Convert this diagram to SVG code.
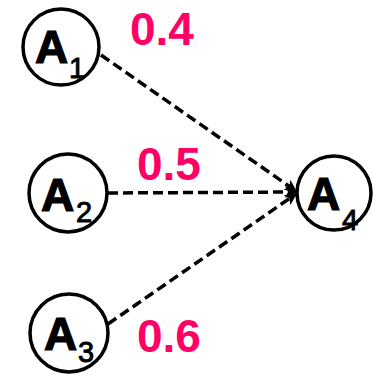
<svg xmlns="http://www.w3.org/2000/svg" width="373" height="374" viewBox="0 0 373 374">
  <style>
    .node circle { fill: #fff; stroke: #000; stroke-width: 3.5; }
    .main { font-family: "Liberation Sans", Arial, sans-serif; font-weight: bold; font-size: 46px; fill: #000; stroke: #000; stroke-width: 1.2; }
    .sub { font-family: "Liberation Sans", Arial, sans-serif; font-size: 29px; fill: #000; stroke: #000; stroke-width: 0.9; }
    .weight { font-family: "Liberation Sans", Arial, sans-serif; font-weight: bold; font-size: 46px; fill: #ff0066; }
    .edge { stroke: #000; stroke-width: 3.5; stroke-dasharray: 10 5; fill: none; }
  </style>
  <defs>
    <marker id="arrow" markerWidth="12" markerHeight="12" refX="11" refY="6" orient="auto" markerUnits="userSpaceOnUse">
      <path d="M0,0 L12,6 L0,12 L3,6 Z" fill="#000"/>
    </marker>
  </defs>

  <!-- weighted edges into A4 -->
  <g id="connectors">
    <line class="edge" x1="101" y1="55" x2="296" y2="191" marker-end="url(#arrow)"/>
    <line class="edge" x1="108" y1="193" x2="296" y2="192" marker-end="url(#arrow)"/>
    <line class="edge" x1="108" y1="324" x2="296" y2="194" marker-end="url(#arrow)"/>
  </g>

  <g id="weights">
    <text class="weight" x="130" y="45">0.4</text>
    <text class="weight" x="137" y="180">0.5</text>
    <text class="weight" x="137" y="352">0.6</text>
  </g>

  <g id="A1" class="node">
    <circle cx="61" cy="47" r="38"/>
    <text class="main" x="35" y="63">A</text>
    <text class="sub" x="69" y="78">1</text>
  </g>
  <g id="A2" class="node">
    <circle cx="68" cy="193" r="39"/>
    <text class="main" x="41" y="211">A</text>
    <text class="sub" x="76" y="222">2</text>
  </g>
  <g id="A3" class="node">
    <circle cx="69" cy="333" r="39"/>
    <text class="main" x="44" y="350">A</text>
    <text class="sub" x="78" y="362">3</text>
  </g>
  <g id="A4" class="node">
    <circle cx="334" cy="193" r="37"/>
    <text class="main" x="307" y="210">A</text>
    <text class="sub" x="342" y="230">4</text>
  </g>
</svg>
